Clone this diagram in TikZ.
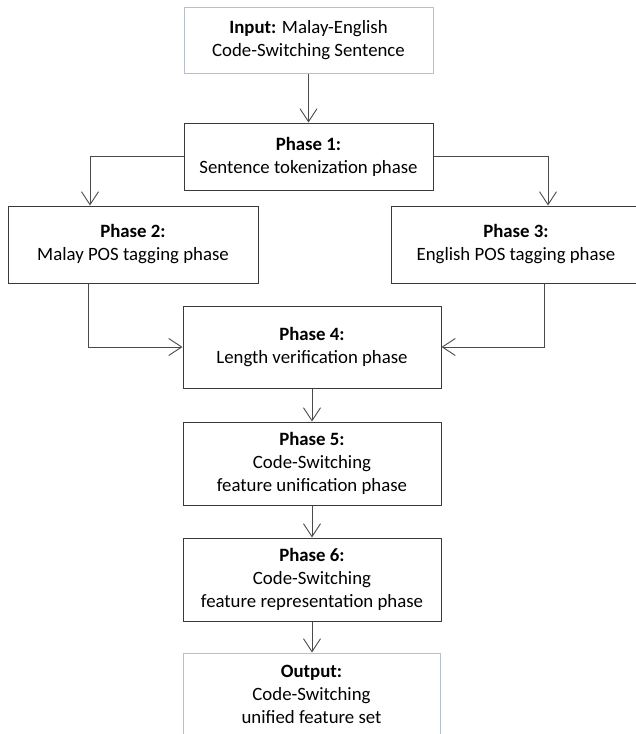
\documentclass[tikz,border=0pt]{standalone}
\usepackage{fontspec}
\setmainfont{Carlito}
\usetikzlibrary{arrows.meta}
\definecolor{boxline}{HTML}{3A3A3A}
\definecolor{arrline}{HTML}{4A4A4A}
\definecolor{lightline}{HTML}{B8C0CC}
\tikzset{
  box/.style={draw=boxline, line width=1pt, align=center, inner sep=0pt,
    font=\fontsize{18.8}{23}\selectfont},
  iobox/.style={box, draw=lightline},
  arr/.style={draw=arrline, line width=0.9pt, -{Straight Barb[length=13pt,width=17pt,line width=0.9pt]}},
}
\begin{document}
\begin{tikzpicture}[x=1pt,y=-1pt]
\useasboundingbox (0,0) rectangle (636,734);
\clip (0,0) rectangle (636,734);
\node[iobox, minimum width=249pt, minimum height=66pt] (in) at (308.5,40) {\textbf{Input:} Malay-English\\Code-Switching Sentence};
\node[box, minimum width=249pt, minimum height=67pt] (p1) at (308.5,156.5) {\textbf{Phase 1:}\\Sentence tokenization phase};
\node[box, minimum width=250pt, minimum height=77pt] (p2) at (133,244.5) {\textbf{Phase 2:}\\Malay POS tagging phase};
\node[box, minimum width=250pt, minimum height=77pt] (p3) at (516,244.5) {\textbf{Phase 3:}\\English POS tagging phase};
\node[box, minimum width=258pt, minimum height=82pt] (p4) at (312,347) {\textbf{Phase 4:}\\Length verification phase};
\node[box, minimum width=258pt, minimum height=83pt] (p5) at (312,463.5) {\textbf{Phase 5:}\\Code-Switching\\feature unification phase};
\node[box, minimum width=258pt, minimum height=83pt] (p6) at (312,579.5) {\textbf{Phase 6:}\\Code-Switching\\feature representation phase};
\node[iobox, minimum width=257pt, minimum height=83pt] (out) at (311.5,694.5) {\textbf{Output:}\\Code-Switching\\unified feature set};
\draw[arr] (in.south) -- (p1.north);
\draw[arr] (p1.west) -| ([xshift=-43pt]p2.north);
\draw[arr] (p1.east) -| ([xshift=32pt]p3.north);
\draw[arr] ([xshift=-45pt]p2.south) |- (p4.west);
\draw[arr] ([xshift=28pt]p3.south) |- (p4.east);
\draw[arr] (p4.south) -- (p5.north);
\draw[arr] (p5.south) -- (p6.north);
\draw[arr] (p6.south) -- (out.north -| p6.south);
\end{tikzpicture}
\end{document}
